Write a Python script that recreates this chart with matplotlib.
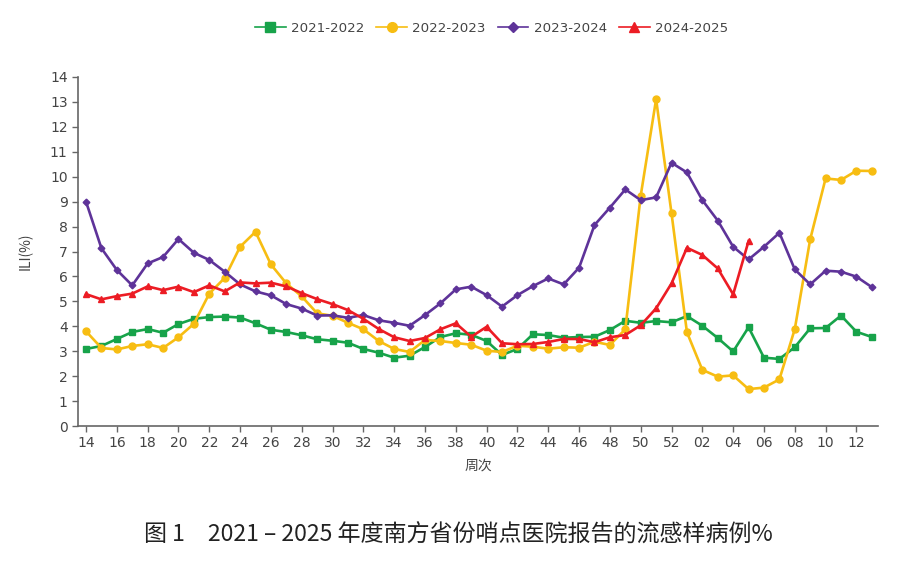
import matplotlib
matplotlib.use("Agg")
import matplotlib.pyplot as plt
from matplotlib.lines import Line2D

plt.rcParams['font.family'] = ['Noto Sans CJK SC', 'DejaVu Sans']

weeks = [str(w) for w in range(14, 53)] + ["%02d" % w for w in range(1, 14)]

s2122 = [3.09, 3.21, 3.49, 3.77, 3.89, 3.74, 4.09, 4.30, 4.37, 4.39, 4.35, 4.12, 3.86, 3.77,
         3.64, 3.48, 3.42, 3.34, 3.09, 2.94, 2.74, 2.82, 3.17, 3.57, 3.72, 3.66, 3.41, 2.85,
         3.09, 3.68, 3.65, 3.54, 3.57, 3.58, 3.85, 4.22, 4.14, 4.21, 4.16, 4.41, 4.02, 3.53,
         2.99, 3.96, 2.74, 2.69, 3.16, 3.92, 3.93, 4.43, 3.78, 3.57]
s2223 = [3.80, 3.13, 3.07, 3.21, 3.28, 3.13, 3.56, 4.10, 5.31, 5.94, 7.19, 7.79, 6.48, 5.72,
         5.20, 4.52, 4.42, 4.14, 3.88, 3.41, 3.09, 2.97, 3.45, 3.41, 3.33, 3.26, 3.02, 2.97,
         3.22, 3.18, 3.10, 3.16, 3.14, 3.38, 3.25, 3.88, 9.24, 13.11, 8.53, 3.76, 2.25, 1.98,
         2.03, 1.48, 1.54, 1.87, 3.89, 7.49, 9.93, 9.87, 10.24, 10.23]
s2324 = [9.00, 7.13, 6.26, 5.64, 6.52, 6.78, 7.50, 6.95, 6.66, 6.19, 5.68, 5.40, 5.24, 4.89,
         4.71, 4.43, 4.44, 4.34, 4.45, 4.24, 4.14, 4.02, 4.45, 4.92, 5.48, 5.59, 5.25, 4.79,
         5.25, 5.61, 5.92, 5.68, 6.35, 8.06, 8.76, 9.49, 9.06, 9.17, 10.56, 10.17, 9.06, 8.24,
         7.19, 6.68, 7.19, 7.75, 6.28, 5.68, 6.23, 6.19, 5.99, 5.57]
s2425 = [5.29, 5.08, 5.21, 5.31, 5.60, 5.45, 5.59, 5.37, 5.64, 5.40, 5.76, 5.72, 5.75, 5.60,
         5.33, 5.09, 4.89, 4.65, 4.30, 3.89, 3.56, 3.41, 3.53, 3.88, 4.12, 3.58, 3.98, 3.32,
         3.28, 3.29, 3.37, 3.49, 3.49, 3.36, 3.56, 3.65, 4.04, 4.72, 5.72, 7.15, 6.86, 6.32,
         5.28, 7.42]

series_names = ["2021-2022", "2022-2023", "2023-2024", "2024-2025"]
series_vals = [s2122, s2223, s2324, s2425]
colors = ["#17a34a", "#f7bd12", "#5e3399", "#ec1c24"]
markers = ["s", "o", "D", "^"]
msizes = [5.0, 5.0, 3.4, 5.0]

fig = plt.figure(figsize=(9.01, 5.61), dpi=100)
ax = fig.add_axes([78/901, 1-426/561, 800/901, 349/561])

for name, vals, c, m, ms in zip(series_names, series_vals, colors, markers, msizes):
    ax.plot(range(len(vals)), vals, color=c, lw=1.9, marker=m, ms=ms,
            markeredgecolor=c, label=name)

ax.set_ylim(0, 14)
ax.set_yticks(range(0, 15))
ax.set_xlim(-0.52, 51.4)
ax.set_xticks(range(0, 51, 2))
ax.set_xticklabels([weeks[i] for i in range(0, 51, 2)])

for side in ["top", "right"]:
    ax.spines[side].set_visible(False)
for side in ["left", "bottom"]:
    ax.spines[side].set_color("#666666")
    ax.spines[side].set_linewidth(1.2)
ax.tick_params(axis="both", colors="#666666", labelcolor="#444444", labelsize=10,
               length=4, width=1.0)
for lab in ax.get_xticklabels() + ax.get_yticklabels():
    lab.set_family("DejaVu Sans")

ax.set_ylabel("ILI(%)", fontsize=10, color="#444444", labelpad=12)
ax.set_xlabel("周次", fontsize=10, color="#444444", labelpad=6)

handles = [Line2D([0], [0], color=c, lw=1.2, marker=m, ms=ms + 2, markeredgecolor=c)
           for c, m, ms in zip(colors, markers, msizes)]
fig.legend(handles, series_names, loc="center", bbox_to_anchor=(0.5455, 1-28/561),
           ncol=4, frameon=False, handlelength=2.3, columnspacing=0.9,
           handletextpad=0.4, labelcolor="#444444",
           prop={"family": "DejaVu Sans", "size": 9.6})

fig.text(0.509, 1-535/561, "图 1　2021 – 2025 年度南方省份哨点医院报告的流感样病例%",
         ha="center", va="center", fontsize=16.6, color="#222222")

fig.savefig("out.png", dpi=100)
